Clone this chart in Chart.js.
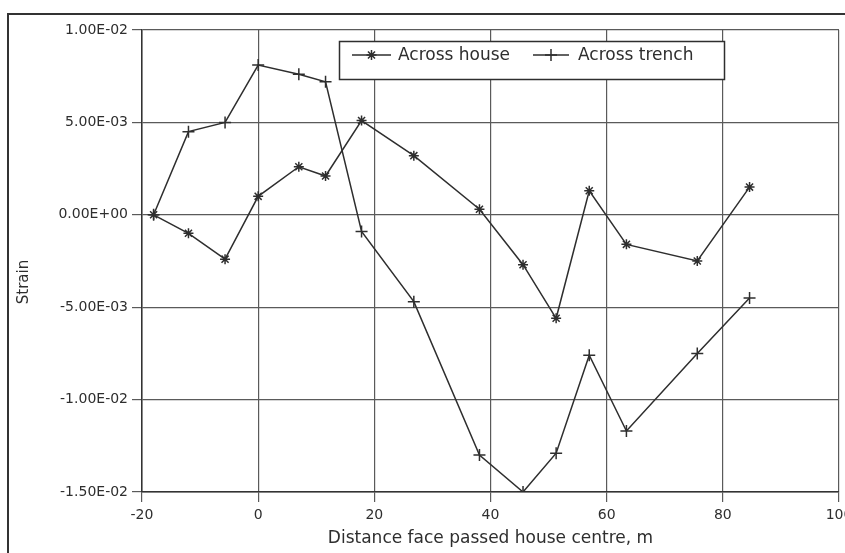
<!DOCTYPE html>
<html>
<head>
<meta charset="utf-8">
<style>
  html, body { margin: 0; padding: 0; background: #fff; overflow: hidden; }
  canvas { display: block; }
</style>
<script src="https://cdn.jsdelivr.net/npm/chart.js@4.4.1/dist/chart.umd.min.js"></script>
</head>
<body>
<canvas id="strainChart" width="880" height="590"></canvas>
<script>
// Measurement stations: distance of the face past the house centre (m)
const distance = [-18, -12, -5.7, 0, 7, 11.6, 17.8, 26.8, 38.1, 45.6, 51.3, 57, 63.4, 75.6, 84.6];

// Strain readings for each station
const acrossHouse  = [0, -1.0e-3, -2.4e-3, 1.0e-3, 2.6e-3, 2.1e-3, 5.1e-3, 3.2e-3, 0.3e-3, -2.7e-3, -5.6e-3, 1.3e-3, -1.6e-3, -2.5e-3, 1.5e-3];
const acrossTrench = [0, 4.5e-3, 5.0e-3, 8.1e-3, 7.6e-3, 7.2e-3, -0.9e-3, -4.7e-3, -13.0e-3, -15.0e-3, -12.9e-3, -7.6e-3, -11.7e-3, -7.5e-3, -4.5e-3];

const seriesNames = ['Across house', 'Across trench'];

// Axis ticks and their printed labels
const xTicks = [-20, 0, 20, 40, 60, 80, 100];
const yTicks = [-0.015, -0.01, -0.005, 0, 0.005, 0.01];
const yTickLabels = ['-1.50E-02', '-1.00E-02', '-5.00E-03', '0.00E+00', '5.00E-03', '1.00E-02'];

const xTitle = 'Distance face passed house centre, m';
const yTitle = 'Strain';

const INK = '#2e2e2e';
const GRID = '#5a5a5a';
const FONT = '"DejaVu Sans", Verdana, sans-serif';

const toPoints = ys => distance.map((x, i) => ({ x: x, y: ys[i] }));

const markerStyles = ['star', 'cross'];
const markerRadius = [5, 6];

// Outer frame, rotated y title and boxed legend
const decor = {
  id: 'decor',
  beforeDraw(chart) {
    const ctx = chart.ctx;
    ctx.save();
    ctx.fillStyle = '#fff';
    ctx.fillRect(0, 0, chart.width, chart.height);
    ctx.strokeStyle = '#333';
    ctx.lineWidth = 2;
    ctx.beginPath();
    ctx.moveTo(8, chart.height);
    ctx.lineTo(8, 14);
    ctx.lineTo(chart.width, 14);
    ctx.stroke();
    ctx.restore();
  },
  afterDraw(chart) {
    const ctx = chart.ctx;
    const area = chart.chartArea;

    // y axis title
    ctx.save();
    ctx.translate(24, (area.top + area.bottom) / 2 + 21);
    ctx.rotate(-Math.PI / 2);
    ctx.font = '15px ' + FONT;
    ctx.fillStyle = INK;
    ctx.textAlign = 'center';
    ctx.textBaseline = 'middle';
    ctx.fillText(yTitle, 0, 0);
    ctx.restore();

    // legend box
    const bx = 339.5, by = 41.5, bw = 385, bh = 38;
    const cy = by + bh / 2 - 6 + 0.5;
    ctx.save();
    ctx.fillStyle = '#fff';
    ctx.fillRect(bx, by, bw, bh);
    ctx.strokeStyle = INK;
    ctx.lineWidth = 1.5;
    ctx.strokeRect(bx, by, bw, bh);

    const items = [
      { x0: 352, x1: 391, tx: 398 },
      { x0: 533, x1: 569, tx: 578 }
    ];
    items.forEach((it, i) => {
      ctx.strokeStyle = INK;
      ctx.lineWidth = 1.5;
      ctx.beginPath();
      ctx.moveTo(it.x0, cy);
      ctx.lineTo(it.x1, cy);
      ctx.stroke();
      Chart.helpers.drawPoint(ctx, {
        pointStyle: markerStyles[i],
        radius: markerRadius[i],
        rotation: 0,
        borderWidth: 1.5
      }, (it.x0 + it.x1) / 2, cy);
      ctx.fillStyle = INK;
      ctx.font = '17px ' + FONT;
      ctx.textAlign = 'left';
      ctx.textBaseline = 'middle';
      ctx.fillText(seriesNames[i], it.tx, cy + 1);
    });
    ctx.restore();
  }
};

const series = [acrossHouse, acrossTrench];

new Chart(document.getElementById('strainChart'), {
  type: 'line',
  data: {
    datasets: series.map((ys, i) => ({
      label: seriesNames[i],
      data: toPoints(ys),
      borderColor: INK,
      borderWidth: 1.5,
      backgroundColor: INK,
      pointStyle: markerStyles[i],
      pointRadius: markerRadius[i],
      pointBorderWidth: 1.5,
      pointBorderColor: INK,
      tension: 0,
      fill: false
    }))
  },
  options: {
    responsive: false,
    animation: false,
    devicePixelRatio: 1,
    layout: { padding: { left: 0, top: 30, right: 41, bottom: 0 } },
    plugins: {
      legend: { display: false },
      tooltip: { enabled: false }
    },
    scales: {
      x: {
        type: 'linear',
        min: -20,
        max: 100,
        afterBuildTicks: s => { s.ticks = xTicks.map(v => ({ value: v })); },
        afterFit: s => { s.height = 98; },
        ticks: {
          callback: v => String(v),
          color: INK,
          font: { family: FONT, size: 14 },
          padding: 5,
          maxRotation: 0
        },
        grid: { color: GRID, lineWidth: 1.2, tickLength: 10, drawTicks: true },
        border: { color: '#333', width: 1.5 },
        title: {
          display: true,
          text: xTitle,
          color: INK,
          font: { family: FONT, size: 17 },
          padding: { top: 0, bottom: 41 }
        }
      },
      y: {
        type: 'linear',
        min: -0.015,
        max: 0.01,
        afterBuildTicks: s => { s.ticks = yTicks.map(v => ({ value: v })); },
        afterFit: s => { s.width = 142; },
        ticks: {
          callback: (v, i) => yTickLabels[i],
          color: INK,
          font: { family: FONT, size: 14 },
          padding: 4
        },
        grid: { color: GRID, lineWidth: 1.2, tickLength: 10, drawTicks: true },
        border: { color: '#333', width: 1.5 }
      }
    }
  },
  plugins: [decor]
});
</script>
</body>
</html>
